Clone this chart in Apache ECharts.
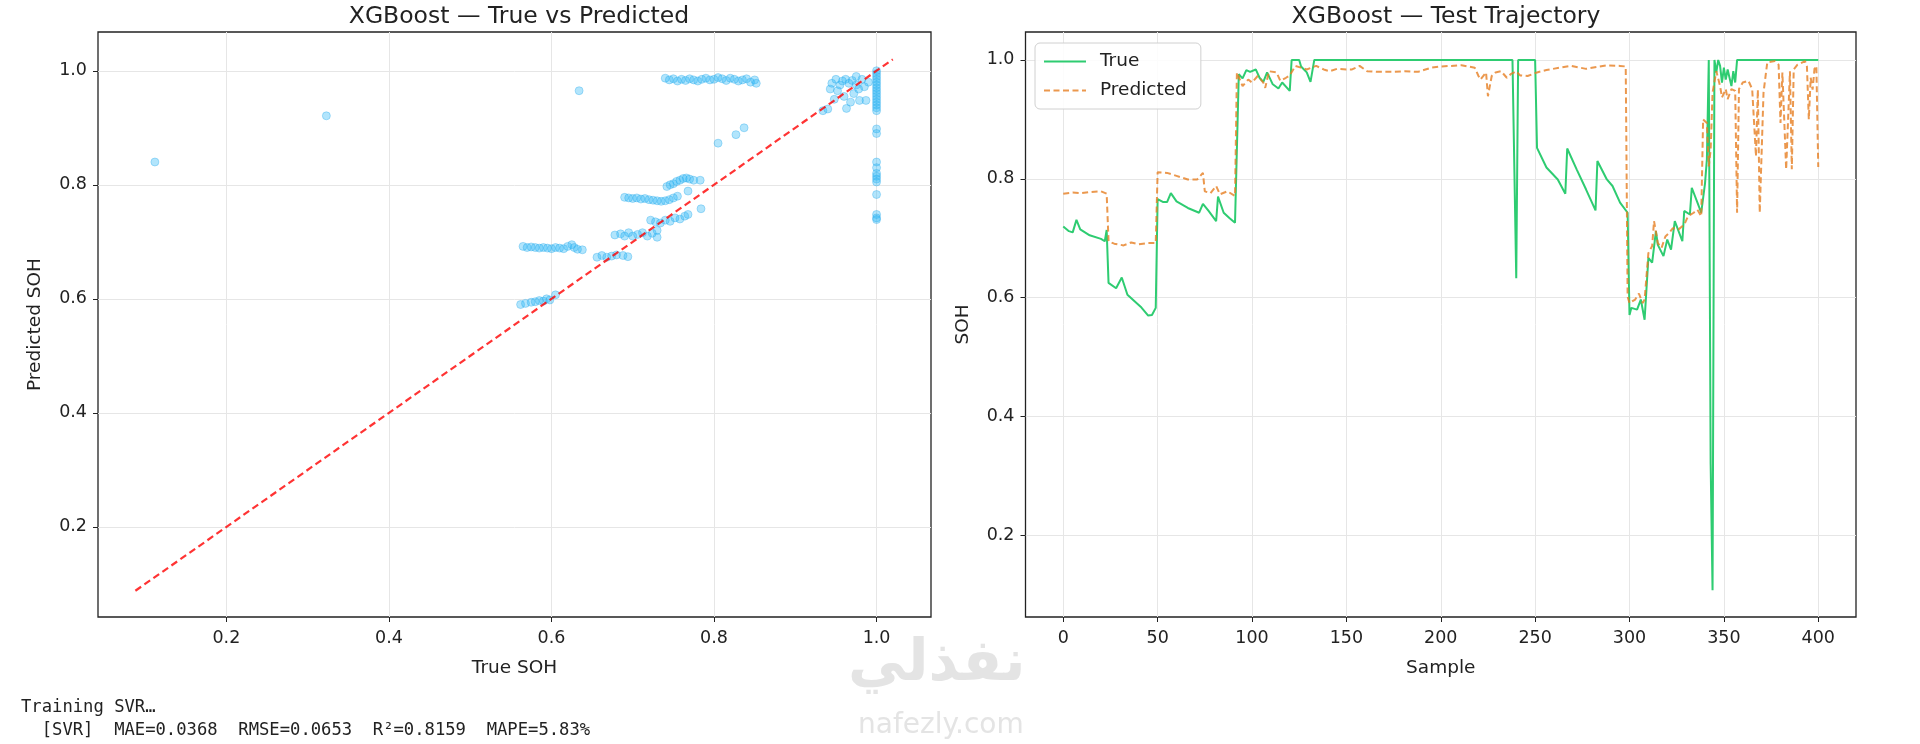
<!DOCTYPE html>
<html>
<head>
<meta charset="utf-8">
<script src="https://cdn.jsdelivr.net/npm/echarts@6.0.0/dist/echarts.min.js"></script>
<style>
html,body{margin:0;padding:0;background:#ffffff;}
#chart{width:1920px;height:744px;}
</style>
</head>
<body>
<div id="chart"></div>
<script>
// ---------------- data ----------------
const leftTitle = 'XGBoost — True vs Predicted';
const rightTitle = 'XGBoost — Test Trajectory';
const scatterTicks = [0.2, 0.4, 0.6, 0.8, 1.0];
const sohTicks = [0.2, 0.4, 0.6, 0.8, 1.0];
const sampleTicks = [0, 50, 100, 150, 200, 250, 300, 350, 400];
const legendNames = ['True', 'Predicted'];
const logLines = ['Training SVR…', '  [SVR]  MAE=0.0368  RMSE=0.0653  R²=0.8159  MAPE=5.83%'];

// scatter: [true SOH, predicted SOH]
const scatterPairs = [
  [0.112,0.84],[0.323,0.921],[0.634,0.965],
  [0.562,0.59],[0.568,0.592],[0.575,0.594],[0.58,0.595],[0.585,0.597],[0.59,0.596],[0.594,0.6],[0.598,0.598],[0.605,0.607],
  [0.565,0.692],[0.57,0.69],[0.575,0.691],[0.58,0.69],[0.585,0.689],[0.59,0.69],[0.595,0.689],[0.6,0.688],[0.605,0.69],
  [0.61,0.689],[0.615,0.688],[0.62,0.692],[0.625,0.695],[0.628,0.69],[0.632,0.687],[0.638,0.686],
  [0.656,0.673],[0.662,0.676],[0.668,0.673],[0.674,0.675],[0.68,0.677],[0.688,0.676],[0.694,0.674],
  [0.678,0.712],[0.685,0.714],[0.69,0.71],[0.695,0.716],[0.70,0.71],[0.706,0.713],[0.712,0.716],[0.718,0.71],[0.724,0.715],[0.73,0.708],
  [0.722,0.738],[0.728,0.735],[0.734,0.733],[0.74,0.738],[0.746,0.736],[0.752,0.742],[0.758,0.74],[0.764,0.745],[0.768,0.748],[0.73,0.72],
  [0.69,0.778],[0.695,0.777],[0.70,0.776],[0.705,0.777],[0.71,0.775],[0.715,0.776],[0.72,0.774],[0.725,0.773],[0.73,0.772],
  [0.735,0.771],[0.74,0.772],[0.745,0.774],[0.75,0.777],[0.755,0.78],
  [0.742,0.797],[0.746,0.8],[0.75,0.802],[0.754,0.806],[0.758,0.808],[0.762,0.811],[0.766,0.812],[0.77,0.81],[0.775,0.808],[0.768,0.789],[0.783,0.808],
  [0.784,0.758],[0.805,0.873],[0.827,0.888],[0.837,0.9],
  [0.74,0.987],[0.745,0.984],[0.75,0.986],[0.755,0.982],[0.76,0.985],[0.765,0.983],[0.77,0.986],[0.775,0.984],[0.78,0.982],
  [0.785,0.985],[0.79,0.987],[0.795,0.984],[0.80,0.985],[0.805,0.988],[0.81,0.986],[0.815,0.983],[0.82,0.987],[0.825,0.985],
  [0.83,0.982],[0.835,0.984],[0.84,0.986],[0.845,0.98],[0.85,0.984],[0.852,0.978],
  [0.934,0.93],[0.94,0.933],[0.943,0.968],[0.948,0.95],[0.952,0.965],[0.955,0.975],[0.958,0.982],[0.962,0.985],[0.963,0.934],
  [0.966,0.978],[0.97,0.983],[0.972,0.96],[0.975,0.975],[0.978,0.968],[0.979,0.948],[0.982,0.985],[0.985,0.972],[0.987,0.948],
  [0.99,0.98],[0.945,0.978],[0.96,0.955],[0.968,0.945],[0.975,0.99],[0.95,0.985],
  [1,1.0],[1,0.995],[1,0.99],[1,0.985],[1,0.98],[1,0.975],[1,0.97],[1,0.965],[1,0.96],[1,0.955],[1,0.95],[1,0.945],[1,0.94],
  [1,0.935],[1,0.93],[1,0.898],[1,0.89],[1,0.84],[1,0.83],[1,0.82],[1,0.815],[1,0.81],[1,0.805],[1,0.783],[1,0.748],[1,0.742],[1,0.739]
];
// ends of the y = x reference line
const identityEnds = [0.088, 1.02];

// trajectory: [sample, SOH]
const trajTrue = [
  [0,0.72],[3,0.712],[5,0.71],[7,0.731],[9,0.715],[14,0.705],[20,0.699],[22,0.695],[23,0.714],[24,0.625],[28,0.616],[31,0.634],
  [34,0.605],[41,0.585],[45,0.57],[47,0.571],[49,0.583],[50,0.766],[53,0.761],[55,0.761],[57,0.776],[60,0.762],[66,0.751],
  [72,0.743],[74,0.758],[77,0.746],[81,0.729],[82,0.77],[85,0.743],[88,0.734],[91,0.726],[93,0.976],[95,0.969],[97,0.983],
  [99,0.98],[102,0.984],[104,0.97],[106,0.963],[108,0.979],[111,0.959],[114,0.952],[116,0.962],[120,0.948],[121,1.0],[125,1.0],
  [126,0.989],[127,0.99],[129,0.979],[131,0.963],[133,1.0],[238,1.0],[240,0.633],[241,1.0],[250,1.0],[251,0.852],[256,0.819],
  [262,0.799],[266,0.775],[267,0.851],[272,0.816],[277,0.782],[282,0.747],[283,0.83],[288,0.799],[291,0.788],[295,0.76],[299,0.743],
  [300,0.571],[301,0.583],[304,0.58],[306,0.597],[308,0.563],[310,0.667],[312,0.659],[314,0.712],[315,0.689],[318,0.67],[320,0.698],
  [322,0.681],[324,0.729],[328,0.695],[329,0.746],[332,0.74],[333,0.785],[336,0.76],[338,0.743],[340,0.792],[341,0.833],[342,1.0],
  [343,0.32],[344,0.108],[345,1.0],[346,0.979],[347,1.0],[348,0.99],[349,0.962],[350,0.987],[351,0.967],[352,0.984],[354,0.956],
  [355,0.981],[356,0.962],[357,1.0],[400,1.0]
];
const trajPred = [
  [0,0.775],[5,0.777],[10,0.776],[15,0.778],[20,0.779],[23,0.775],[24,0.695],[27,0.691],[32,0.688],[36,0.693],[40,0.69],[45,0.692],
  [49,0.692],[50,0.811],[55,0.81],[60,0.805],[66,0.799],[71,0.799],[74,0.81],[75,0.779],[78,0.776],[81,0.788],[83,0.774],[87,0.779],
  [91,0.771],[92,0.979],[95,0.956],[98,0.967],[100,0.962],[103,0.973],[106,0.962],[107,0.953],[109,0.981],[113,0.979],[115,0.965],
  [118,0.97],[120,0.974],[123,0.99],[126,0.987],[129,0.984],[134,0.99],[138,0.984],[141,0.981],[145,0.985],[150,0.984],[153,0.984],
  [157,0.99],[161,0.981],[166,0.98],[174,0.98],[181,0.981],[188,0.98],[191,0.983],[195,0.987],[200,0.989],[211,0.991],[218,0.987],
  [220,0.973],[221,0.967],[224,0.979],[225,0.939],[227,0.973],[229,0.979],[232,0.981],[235,0.97],[237,0.976],[240,0.981],[242,0.974],
  [246,0.973],[251,0.979],[256,0.983],[263,0.987],[269,0.99],[277,0.985],[288,0.991],[295,0.99],[298,0.989],[299,0.602],[300,0.591],
  [303,0.597],[305,0.607],[307,0.591],[308,0.597],[310,0.675],[312,0.687],[313,0.729],[315,0.692],[317,0.684],[319,0.703],[321,0.709],
  [323,0.717],[326,0.715],[329,0.723],[331,0.737],[334,0.743],[336,0.748],[338,0.737],[339,0.9],[341,0.894],[342,0.821],[343,0.849],
  [344,0.945],[346,0.981],[348,0.956],[349,0.937],[351,0.951],[352,0.934],[354,0.951],[356,0.948],[357,0.743],[358,0.951],[360,0.962],
  [363,0.965],[365,0.951],[367,0.838],[368,0.95],[369,0.743],[371,0.945],[373,0.996],[377,0.998],[379,0.992],[380,0.894],[381,0.979],
  [383,0.816],[385,0.981],[386,0.816],[387,0.984],[389,0.992],[393,0.998],[394,0.989],[395,0.9],[396,0.97],[397,0.95],[398,0.985],
  [399,0.99],[400,0.82]
];

// ---------------- chart ----------------
const FONT = 'DejaVu Sans';
const INK = '#222222';

function valueAxis(gridIndex, min, max, ticks, fmt, name, nameGap, labelMargin) {
  return {
    type: 'value', gridIndex: gridIndex, min: min, max: max,
    name: name, nameLocation: 'middle', nameGap: nameGap,
    nameTextStyle: { color: INK, fontFamily: FONT, fontSize: 18.5 },
    axisLine: { show: false, onZero: false },
    axisTick: { show: true, customValues: ticks, length: 5, lineStyle: { color: INK, width: 1 } },
    axisLabel: { show: true, customValues: ticks, formatter: fmt, color: INK, fontFamily: FONT, fontSize: 17.5, margin: labelMargin },
    splitLine: { show: true, lineStyle: { color: '#e6e6e6', width: 1 } }
  };
}
const f1 = v => Number(v).toFixed(1);
const f0 = v => String(Math.round(v));

const chart = echarts.init(document.getElementById('chart'), null, { renderer: 'canvas' });
chart.setOption({
  animation: false,
  backgroundColor: '#ffffff',
  title: [
    { text: leftTitle, left: 514, top: 0, textAlign: 'center',
      textStyle: { fontFamily: FONT, fontSize: 23.5, fontWeight: 'normal', color: INK } },
    { text: rightTitle, left: 1441, top: 0, textAlign: 'center',
      textStyle: { fontFamily: FONT, fontSize: 23.5, fontWeight: 'normal', color: INK } }
  ],
  grid: [
    { left: 98, top: 32, width: 833, height: 585, show: true, borderColor: INK, borderWidth: 1.3, backgroundColor: 'transparent', containLabel: false },
    { left: 1025.5, top: 32, width: 830.5, height: 585, show: true, borderColor: INK, borderWidth: 1.3, backgroundColor: 'transparent', containLabel: false }
  ],
  xAxis: [
    valueAxis(0, 0.042, 1.067, scatterTicks, f1, 'True SOH', 42, 12),
    valueAxis(1, -20, 420, sampleTicks, f0, 'Sample', 42, 12)
  ],
  yAxis: [
    valueAxis(0, 0.042, 1.068, scatterTicks, f1, 'Predicted SOH', 53, 11),
    valueAxis(1, 0.063, 1.047, sohTicks, f1, 'SOH', 53, 11)
  ],
  legend: {
    data: legendNames, orient: 'vertical', left: 1035, top: 43,
    itemWidth: 42, itemHeight: 14, itemGap: 10,
    padding: [9, 14, 9, 8],
    itemStyle: { opacity: 0 },
    backgroundColor: 'rgba(255,255,255,0.85)', borderColor: '#d0d0d0', borderWidth: 1, borderRadius: 5,
    textStyle: { fontFamily: FONT, fontSize: 18.5, color: INK, padding: [0, 0, 0, 9] }
  },
  series: [
    { type: 'scatter', xAxisIndex: 0, yAxisIndex: 0, data: scatterPairs, symbolSize: 8,
      itemStyle: { color: 'rgba(41,182,246,0.45)', borderColor: 'rgba(41,170,236,0.55)', borderWidth: 0.8 }, z: 2 },
    { type: 'line', xAxisIndex: 0, yAxisIndex: 0,
      data: [[identityEnds[0], identityEnds[0]], [identityEnds[1], identityEnds[1]]],
      symbol: 'none', lineStyle: { color: 'rgba(255,0,0,0.8)', width: 2.2, type: [7, 4] }, z: 3 },
    { name: 'True', type: 'line', xAxisIndex: 1, yAxisIndex: 1, data: trajTrue, symbol: 'none',
      lineStyle: { color: '#2ecc71', width: 2 }, itemStyle: { color: '#2ecc71', opacity: 0 }, z: 3 },
    { name: 'Predicted', type: 'line', xAxisIndex: 1, yAxisIndex: 1, data: trajPred, symbol: 'none',
      lineStyle: { color: 'rgba(230,126,34,0.8)', width: 2, type: [6, 3.5] }, itemStyle: { color: 'rgba(230,126,34,0.8)', opacity: 0 }, z: 4 }
  ],
  graphic: [
    { type: 'text', left: 21, top: 699, style: { text: logLines[0], fontFamily: 'DejaVu Sans Mono', fontSize: 17.2, fill: INK } },
    { type: 'text', left: 21, top: 722, style: { text: logLines[1], fontFamily: 'DejaVu Sans Mono', fontSize: 17.2, fill: INK } },
    { type: 'text', left: 848, top: 636, z: 0, style: { text: 'نفذلي', fontFamily: FONT, fontWeight: 'bold', fontSize: 58, fill: '#e4e4e4' } },
    { type: 'text', left: 858, top: 712, z: 0, style: { text: 'nafezly.com', fontFamily: FONT, fontSize: 28, fill: '#e4e4e4' } }
  ]
});
</script>
</body>
</html>
